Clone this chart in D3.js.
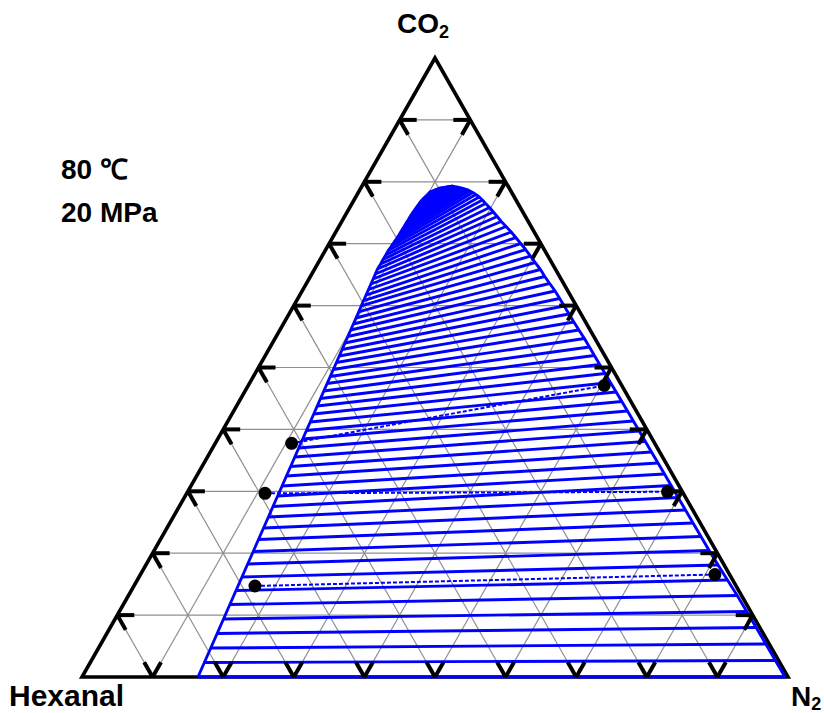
<!DOCTYPE html>
<html>
<head>
<meta charset="utf-8">
<script src="https://cdn.jsdelivr.net/npm/d3@7"></script>
<style>
  body { margin: 0; background: #fff; }
  svg { display: block; }
  text { font-family: "Liberation Sans", Arial, Helvetica, sans-serif; font-weight: bold; fill: #000; }
</style>
</head>
<body>
<svg id="chart" width="824" height="713"></svg>
<script>
// Ternary phase diagram CO2 / Hexanal / N2 at 80 °C, 20 MPa.
// Composition fractions: CO2 at the apex, Hexanal bottom-left, N2 bottom-right.

// Calculated tie lines: liquid (Hexanal-rich) end
const liquidCO2 = [0, 0.0234, 0.0468, 0.0703, 0.0937, 0.1171, 0.1397, 0.1616, 0.1826, 0.2027,
  0.2221, 0.2407, 0.2585, 0.2754, 0.2924, 0.3086, 0.3247, 0.3401, 0.3554, 0.3700,
  0.3845, 0.3982, 0.4120, 0.4249, 0.4378, 0.4499, 0.4620, 0.4742, 0.4855, 0.4968,
  0.5081, 0.5186, 0.5291, 0.5396, 0.5501, 0.5606, 0.5703, 0.5800, 0.5897, 0.5994,
  0.6082, 0.6171, 0.6260, 0.6349, 0.6430, 0.6510, 0.6591, 0.6672, 0.6745, 0.6817,
  0.6890, 0.6963, 0.7027, 0.7092, 0.7157, 0.7221, 0.7278, 0.7334, 0.7391, 0.7447,
  0.7496, 0.7544, 0.7593, 0.7641, 0.7682, 0.7722, 0.7762, 0.7803, 0.7835, 0.7867,
  0.7892];
const liquidN2 = [0.1643, 0.1616, 0.1590, 0.1563, 0.1536, 0.1509, 0.1483, 0.1458, 0.1434, 0.1412,
  0.1389, 0.1368, 0.1348, 0.1328, 0.1309, 0.1291, 0.1272, 0.1255, 0.1237, 0.1220,
  0.1204, 0.1188, 0.1173, 0.1158, 0.1143, 0.1129, 0.1115, 0.1101, 0.1089, 0.1076,
  0.1063, 0.1051, 0.1039, 0.1027, 0.1015, 0.1003, 0.0992, 0.0981, 0.0970, 0.0958,
  0.0948, 0.0938, 0.0928, 0.0918, 0.0909, 0.0900, 0.0890, 0.0894, 0.0892, 0.0894,
  0.0894, 0.0902, 0.0908, 0.0916, 0.0919, 0.0921, 0.0924, 0.0925, 0.0928, 0.0929,
  0.0932, 0.0938, 0.0943, 0.0950, 0.0955, 0.0969, 0.0984, 0.1000, 0.1011, 0.1065,
  0.1105];

// Calculated tie lines: vapour (N2-rich) end
const vaporCO2 = [0, 0.0267, 0.0533, 0.0800, 0.1058, 0.1317, 0.1567, 0.1809, 0.2044, 0.2270,
  0.2488, 0.2698, 0.2900, 0.3094, 0.3279, 0.3457, 0.3635, 0.3805, 0.3974, 0.4136,
  0.4297, 0.4451, 0.4604, 0.4758, 0.4903, 0.5048, 0.5194, 0.5331, 0.5468, 0.5606,
  0.5735, 0.5864, 0.5994, 0.6115, 0.6236, 0.6357, 0.6470, 0.6583, 0.6696, 0.6801,
  0.6906, 0.7003, 0.7100, 0.7189, 0.7278, 0.7359, 0.7439, 0.7512, 0.7585, 0.7649,
  0.7706, 0.7754, 0.7795, 0.7827, 0.7851, 0.7868, 0.7879, 0.7889, 0.7897, 0.7904,
  0.7908, 0.7913, 0.7916, 0.7919, 0.7922, 0.7924, 0.7925, 0.7927, 0.7929, 0.7930,
  0.7931];
const vaporHexanal = [0.0042, 0.0045, 0.0048, 0.0051, 0.0055, 0.0061, 0.0074, 0.0086, 0.0095, 0.0098,
  0.0101, 0.0103, 0.0106, 0.0108, 0.0110, 0.0113, 0.0116, 0.0118, 0.0120, 0.0123,
  0.0125, 0.0128, 0.0132, 0.0136, 0.0140, 0.0143, 0.0146, 0.0147, 0.0150, 0.0159,
  0.0166, 0.0170, 0.0174, 0.0176, 0.0181, 0.0197, 0.0211, 0.0214, 0.0232, 0.0248,
  0.0263, 0.0285, 0.0306, 0.0326, 0.0354, 0.0382, 0.0399, 0.0418, 0.0435, 0.0459,
  0.0475, 0.0496, 0.0524, 0.0552, 0.0579, 0.0599, 0.0622, 0.0646, 0.0670, 0.0687,
  0.0707, 0.0718, 0.0731, 0.0744, 0.0756, 0.0763, 0.0771, 0.0778, 0.0785, 0.0790,
  0.0793];

// Experimental tie lines (measured liquid / vapour compositions)
const expLiquidCO2 = [0.1470, 0.2968, 0.3775];
const expLiquidN2 = [0.1715, 0.1108, 0.1082];
const expVaporCO2 = [0.1656, 0.2992, 0.4709];
const expVaporN2 = [0.8137, 0.6797, 0.5042];

// Grid levels and labels
const gridLevels = [0.1, 0.2, 0.3, 0.4, 0.5, 0.6, 0.7, 0.8, 0.9];
const cornerLabels = { apex: "CO", left: "Hexanal", right: "N" };
const conditionLabels = ["80 \u2103", "20 MPa"];

const svg = d3.select("#chart");

// Pixel mapping of the triangle
const xScale = d3.scaleLinear().domain([0, 1]).range([82, 788]);
const yScale = d3.scaleLinear().domain([0, 1]).range([677, 58]);
// (CO2, N2) fractions -> [x, y]
const pt = (c, n) => [xScale(n + c / 2), yScale(c)];

// Grid line families, each with its two end points on the frame
const gridSegs = [];
gridLevels.forEach(v => {
  gridSegs.push([pt(v, 0), pt(v, 1 - v)]);       // constant CO2
  gridSegs.push([pt(1 - v, v), pt(0, v)]);       // constant N2
  gridSegs.push([pt(1 - v, 0), pt(0, 1 - v)]);   // constant Hexanal
});

svg.append("g")
  .selectAll("line").data(gridSegs).join("line")
  .attr("x1", d => d[0][0]).attr("y1", d => d[0][1])
  .attr("x2", d => d[1][0]).attr("y2", d => d[1][1])
  .attr("stroke", "#8f8f8f").attr("stroke-width", 1.2);

// Triangle frame
const frame = [pt(1, 0), pt(0, 0), pt(0, 1)];
svg.append("path")
  .attr("d", d3.line()(frame) + "Z")
  .attr("fill", "none").attr("stroke", "#000")
  .attr("stroke-width", 3.6).attr("stroke-linejoin", "miter");

// Experimental tie lines (drawn beneath the calculated ones)
const expTies = expLiquidCO2.map((c, i) => [pt(c, expLiquidN2[i]), pt(expVaporCO2[i], expVaporN2[i])]);
svg.append("g")
  .selectAll("line").data(expTies).join("line")
  .attr("x1", d => d[0][0]).attr("y1", d => d[0][1])
  .attr("x2", d => d[1][0]).attr("y2", d => d[1][1])
  .attr("stroke", "#0000ff").attr("stroke-width", 2)
  .attr("stroke-dasharray", "4,2");

// Calculated tie lines
const nTies = Math.min(liquidCO2.length, liquidN2.length, vaporCO2.length, vaporHexanal.length);
const ties = d3.range(nTies).map(i => {
  const vc = vaporCO2[i], vn = 1 - vaporCO2[i] - vaporHexanal[i];
  return [pt(liquidCO2[i], liquidN2[i]), pt(vc, vn)];
});
svg.append("g")
  .selectAll("line").data(ties).join("line")
  .attr("x1", d => d[0][0]).attr("y1", d => d[0][1])
  .attr("x2", d => d[1][0]).attr("y2", d => d[1][1])
  .attr("stroke", "#0000ff").attr("stroke-width", 2.9);

// Two-phase envelope through the tie-line ends
const envelope = ties.map(d => d[0]).concat(ties.map(d => d[1]).reverse());
svg.append("path")
  .attr("d", d3.line()(envelope))
  .attr("fill", "none").attr("stroke", "#0000ff")
  .attr("stroke-width", 2.9).attr("stroke-linejoin", "round");

// Tick marks at the frame ends of every grid line
const tickLen = 17;
const tickSegs = [];
gridSegs.forEach(([a, b]) => {
  const dx = b[0] - a[0], dy = b[1] - a[1];
  const len = Math.hypot(dx, dy), ux = dx / len, uy = dy / len;
  tickSegs.push([a, [a[0] + ux * tickLen, a[1] + uy * tickLen]]);
  tickSegs.push([b, [b[0] - ux * tickLen, b[1] - uy * tickLen]]);
});
svg.append("g")
  .selectAll("line").data(tickSegs).join("line")
  .attr("x1", d => d[0][0]).attr("y1", d => d[0][1])
  .attr("x2", d => d[1][0]).attr("y2", d => d[1][1])
  .attr("stroke", "#000").attr("stroke-width", 4);

// Experimental points
const expPts = expTies.flat();
svg.append("g")
  .selectAll("circle").data(expPts).join("circle")
  .attr("cx", d => d[0]).attr("cy", d => d[1]).attr("r", 6.5)
  .attr("fill", "#000");

// Corner labels
const apexLabel = svg.append("text").attr("x", 397).attr("y", 33).style("font-size", "28px");
apexLabel.append("tspan").text(cornerLabels.apex);
apexLabel.append("tspan").attr("dy", 5).style("font-size", "18px").text("2");

svg.append("text").attr("x", 9).attr("y", 706).style("font-size", "30px").text(cornerLabels.left);

const rightLabel = svg.append("text").attr("x", 791).attr("y", 706).style("font-size", "28px");
rightLabel.append("tspan").text(cornerLabels.right);
rightLabel.append("tspan").attr("dy", 4).style("font-size", "18px").text("2");

// Conditions
svg.selectAll("text.cond").data(conditionLabels).join("text")
  .attr("class", "cond")
  .attr("x", 61).attr("y", (d, i) => 179 + i * 43)
  .style("font-size", "28px")
  .text(d => d);
</script>
</body>
</html>
